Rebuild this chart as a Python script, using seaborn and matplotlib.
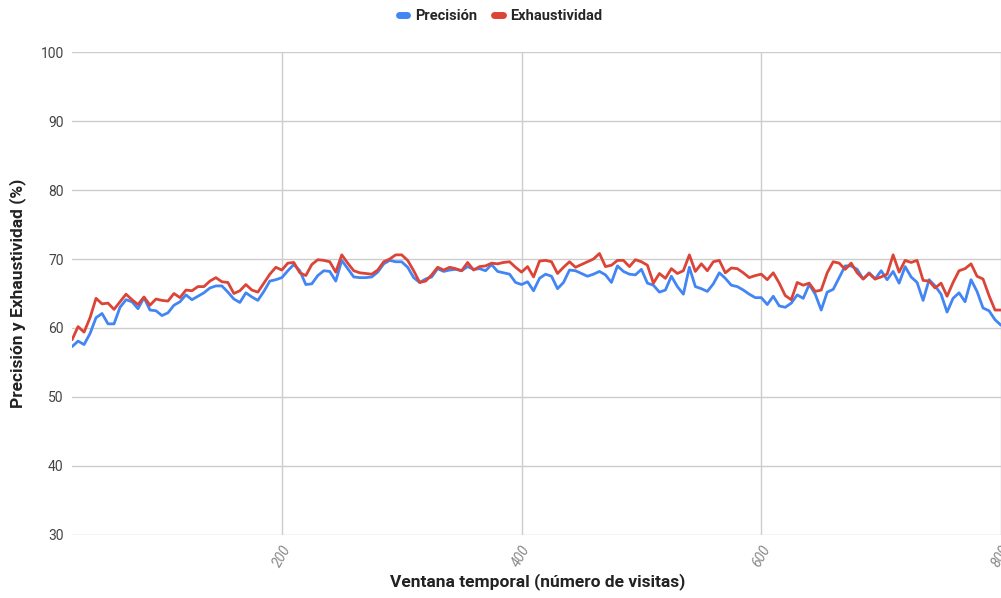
import numpy as np
import pandas as pd
import seaborn as sns
import matplotlib.pyplot as plt
from matplotlib.lines import Line2D

# ventana temporal: 25..800 en pasos de 5
ventana = list(range(25, 805, 5))

precision = [
    57.3, 58.1, 57.6, 59.2, 61.5, 62.1, 60.6, 60.6, 63.0, 64.1,
    63.8, 62.8, 64.4, 62.6, 62.5, 61.8, 62.2, 63.3, 63.8, 64.8,
    64.1, 64.6, 65.1, 65.8, 66.1, 66.1, 65.2, 64.2, 63.7, 65.1,
    64.5, 64.0, 65.3, 66.8, 67.0, 67.3, 68.3, 69.2, 68.3, 66.3,
    66.4, 67.6, 68.3, 68.2, 66.8, 69.8, 68.6, 67.4, 67.3, 67.3,
    67.4, 68.1, 69.3, 69.8, 69.6, 69.6, 68.8, 67.3, 66.6, 67.1,
    67.4, 68.6, 68.2, 68.4, 68.5, 68.3, 68.9, 68.5, 68.6, 68.3,
    69.2, 68.2, 68.0, 67.8, 66.6, 66.3, 66.7, 65.4, 67.2, 67.8,
    67.5, 65.7, 66.6, 68.4, 68.3, 67.9, 67.5, 67.8, 68.2, 67.7,
    66.6, 69.0, 68.2, 67.8, 67.7, 68.5, 66.5, 66.2, 65.2, 65.5,
    67.5, 66.0, 64.9, 68.8, 66.0, 65.7, 65.3, 66.4, 68.0, 67.2,
    66.2, 66.0, 65.5, 64.9, 64.4, 64.4, 63.4, 64.6, 63.2, 63.0,
    63.6, 64.8, 64.3, 66.3, 64.9, 62.6, 65.2, 65.6, 67.3, 69.0,
    69.0, 68.5, 67.1, 68.0, 67.1, 68.3, 67.0, 68.2, 66.5, 68.9,
    67.4, 66.6, 64.0, 67.0, 66.1, 64.9, 62.3, 64.3, 65.1, 63.8,
    67.0, 65.3, 62.9, 62.5, 61.2, 60.4,
]

exhaustividad = [
    58.3, 60.2, 59.4, 61.5, 64.3, 63.5, 63.6, 62.7, 63.8, 64.9,
    64.1, 63.4, 64.5, 63.3, 64.2, 64.0, 63.9, 65.0, 64.4, 65.5,
    65.4, 66.0, 66.0, 66.8, 67.3, 66.7, 66.6, 65.0, 65.4, 66.3,
    65.5, 65.2, 66.5, 67.8, 68.8, 68.4, 69.4, 69.5, 68.0, 67.6,
    69.2, 69.9, 69.8, 69.6, 68.1, 70.6, 69.4, 68.3, 68.0, 67.9,
    67.8, 68.4, 69.6, 70.0, 70.6, 70.6, 69.8, 68.3, 66.6, 66.8,
    67.7, 68.8, 68.4, 68.8, 68.6, 68.3, 69.5, 68.4, 68.9, 69.0,
    69.4, 69.3, 69.5, 69.6, 68.8, 68.1, 68.9, 67.4, 69.7, 69.8,
    69.6, 67.9, 68.8, 69.6, 68.8, 69.2, 69.6, 70.0, 70.8, 68.9,
    69.1, 69.8, 69.8, 68.9, 69.9, 69.6, 69.1, 66.5, 67.9, 67.2,
    68.6, 67.9, 68.3, 70.6, 68.2, 69.3, 68.3, 69.6, 69.8, 68.0,
    68.7, 68.6, 68.0, 67.3, 67.6, 67.8, 67.0, 68.0, 66.5, 64.7,
    64.1, 66.6, 66.2, 66.5, 65.3, 65.5, 68.0, 69.6, 69.4, 68.5,
    69.4, 68.0, 67.1, 67.9, 67.1, 67.4, 67.8, 70.6, 68.1, 69.8,
    69.5, 69.8, 66.9, 66.8, 65.8, 66.5, 64.6, 66.6, 68.3, 68.6,
    69.3, 67.5, 67.1, 64.7, 62.6, 62.6,
]

series = ["Precisión", "Exhaustividad"]
colores = ["#4285F4", "#DB4437"]

df = pd.DataFrame({
    "ventana": ventana * 2,
    "valor": precision + exhaustividad,
    "serie": [series[0]] * len(ventana) + [series[1]] * len(ventana),
})

sns.set_style("white")
plt.rcParams["font.family"] = ["Roboto", "DejaVu Sans"]

fig = plt.figure(figsize=(10.01, 5.98), dpi=100)
ax = fig.add_axes([0.072, 0.1054, 0.928, 0.8076])

sns.lineplot(data=df, x="ventana", y="valor", hue="serie", palette=colores,
             linewidth=2.0, ax=ax, legend=False, solid_joinstyle="round")

ax.set_xlim(25, 800)
ax.set_ylim(30, 100)
ax.set_yticks(range(30, 101, 10))
ax.set_xticks([200, 400, 600, 800])
ax.grid(True, color="#cccccc", linewidth=1)
for s in ax.spines.values():
    s.set_visible(False)
ax.tick_params(axis="both", length=0)
ax.tick_params(axis="y", labelsize=10, labelcolor="#444444", pad=6)
ax.tick_params(axis="x", labelsize=10, labelcolor="#888888", pad=6)
for lbl in ax.get_xticklabels():
    lbl.set_rotation(60)
    lbl.set_style("italic")
    lbl.set_ha("center")

ax.set_xlabel("")
ax.set_ylabel("")
# titulos de ejes colocados a mano
fig.text(0.537, 0.014, "Ventana temporal (número de visitas)", fontsize=12.5,
         fontweight="bold", color="#222222", ha="center", va="bottom")
fig.text(0.018, 0.509, "Precisión y Exhaustividad (%)", fontsize=12.5,
         fontweight="bold", color="#222222", ha="center", va="center",
         rotation=90)

handles = [Line2D([0], [0], color=c, linewidth=5, solid_capstyle="round")
           for c in colores]
fig.legend(handles, series, loc="center", bbox_to_anchor=(0.5, 0.973),
           ncol=2, frameon=False, handlelength=0.6, handletextpad=0.5,
           columnspacing=1.2, prop={"weight": "bold", "size": 10.5})

fig.savefig("out.png", dpi=100)
